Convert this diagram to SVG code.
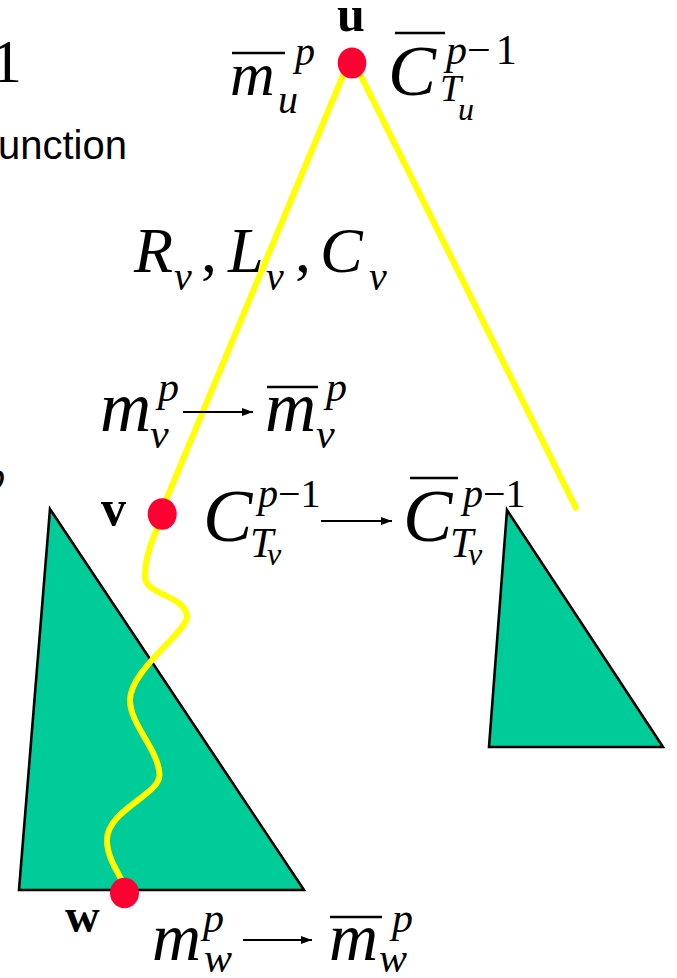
<svg xmlns="http://www.w3.org/2000/svg" width="677" height="978" viewBox="0 0 677 978">
<style>
.m{font-family:"Liberation Serif","Times New Roman",serif;font-style:italic;fill:#000}
.r{font-style:normal}
.b{font-family:"Liberation Serif","Times New Roman",serif;font-weight:bold;fill:#000}
.s{font-family:"Liberation Sans",Arial,sans-serif;fill:#000}
.bar{stroke:#000;stroke-width:2.5}
.arr{stroke:#000;stroke-width:2;marker-end:url(#ah)}
.tri{fill:#00CC99;stroke:#000;stroke-width:2.6;stroke-linejoin:miter}
.dot{fill:#FF0033}
.edge{fill:none;stroke:#FFFF00;stroke-width:6}
</style>
<defs>
<marker id="ah" markerWidth="12" markerHeight="10" refX="11" refY="5" orient="auto" markerUnits="userSpaceOnUse">
<path d="M0,1 L11,5 L0,9 Z" fill="#000"/>
</marker>
</defs>
<rect width="677" height="978" fill="#fff"/>

<g id="fragments">
<text class="m r" x="-9" y="82" font-size="62">1</text>
<text class="s" x="-2" y="159" font-size="40">unction</text>
<text class="m" x="-15" y="490" font-size="40">p</text>
</g>

<g id="subtree-left"><polygon class="tri" points="50,509 19,890 304,890"/></g>
<g id="subtree-right"><polygon class="tri" points="507,510 489,747 663,747"/></g>

<g id="connectors">
<line class="edge" x1="347" y1="66" x2="164" y2="505"/>
<line class="edge" x1="356" y1="66" x2="577" y2="510" stroke-width="5.5"/>
<path class="edge" d="M161 520 C153 538 145 555 145 577 C145 595 186 595 187 617 C187 632 130 670 130 700 C130 725 159 750 159.5 775 C159.5 795 107 810 107 840 C107 858 118 872 126 888"/>
</g>

<g id="node-u">
<ellipse class="dot" cx="352" cy="63" rx="14.3" ry="15.5"/>
<text class="b" x="337" y="31" font-size="50">u</text>
<line class="bar" x1="232" y1="53" x2="285" y2="53"/>
<text class="m" x="230" y="95" font-size="62">m</text>
<text class="m" x="295" y="65" font-size="40">p</text>
<text class="m" x="278" y="113" font-size="40">u</text>
<line class="bar" x1="395" y1="33" x2="445" y2="33"/>
<text class="m" x="388" y="95" font-size="72">C</text>
<text class="m" x="446" y="64" font-size="42">p<tspan class="r">−</tspan><tspan class="r" dx="5">1</tspan></text>
<text class="m" x="440" y="101" font-size="38">T</text>
<text class="m" x="458" y="120" font-size="32">u</text>
</g>

<g id="edge-label">
<text class="m" x="134" y="272" font-size="64">R</text>
<text class="m" x="174" y="290" font-size="40">v</text>
<text class="m r" x="201" y="272" font-size="64">,</text>
<text class="m" x="228" y="272" font-size="64">L</text>
<text class="m" x="266" y="290" font-size="40">v</text>
<text class="m r" x="295" y="272" font-size="64">,</text>
<text class="m" x="320" y="272" font-size="64">C</text>
<text class="m" x="369" y="290" font-size="40">v</text>
</g>

<g id="node-v">
<ellipse class="dot" cx="162.2" cy="514" rx="14.5" ry="15.8"/>
<text class="b" x="101" y="525" font-size="50">v</text>
<text class="m" x="100" y="431" font-size="71">m</text>
<text class="m" x="158" y="401" font-size="42">p</text>
<text class="m" x="150" y="448" font-size="42">v</text>
<line class="arr" x1="183" y1="412" x2="253" y2="412"/>
<line class="bar" x1="267" y1="387" x2="318" y2="387"/>
<text class="m" x="265" y="431" font-size="71">m</text>
<text class="m" x="326" y="401" font-size="42">p</text>
<text class="m" x="316" y="448" font-size="42">v</text>
<text class="m" x="203" y="541" font-size="74">C</text>
<text class="m" x="258" y="507" font-size="40">p<tspan class="r">−1</tspan></text>
<text class="m" x="250" y="557" font-size="42">T</text>
<text class="m" x="267" y="565" font-size="32">v</text>
<line class="arr" x1="321" y1="521" x2="392" y2="521"/>
<line class="bar" x1="410" y1="478" x2="458" y2="478"/>
<text class="m" x="403" y="541" font-size="74">C</text>
<text class="m" x="463" y="507" font-size="40">p<tspan class="r">−1</tspan></text>
<text class="m" x="450" y="557" font-size="42">T</text>
<text class="m" x="468" y="565" font-size="32">v</text>
</g>

<g id="node-w">
<ellipse class="dot" cx="124.5" cy="893" rx="14.5" ry="15.3"/>
<text class="b" x="65" y="932" font-size="48">w</text>
<text class="m" x="152" y="960" font-size="68">m</text>
<text class="m" x="203" y="932" font-size="42">p</text>
<text class="m" x="204" y="972" font-size="42">w</text>
<line class="arr" x1="243" y1="940" x2="312" y2="940"/>
<line class="bar" x1="330" y1="917" x2="382" y2="917"/>
<text class="m" x="329" y="960" font-size="68">m</text>
<text class="m" x="392" y="932" font-size="42">p</text>
<text class="m" x="379" y="972" font-size="42">w</text>
</g>
</svg>
